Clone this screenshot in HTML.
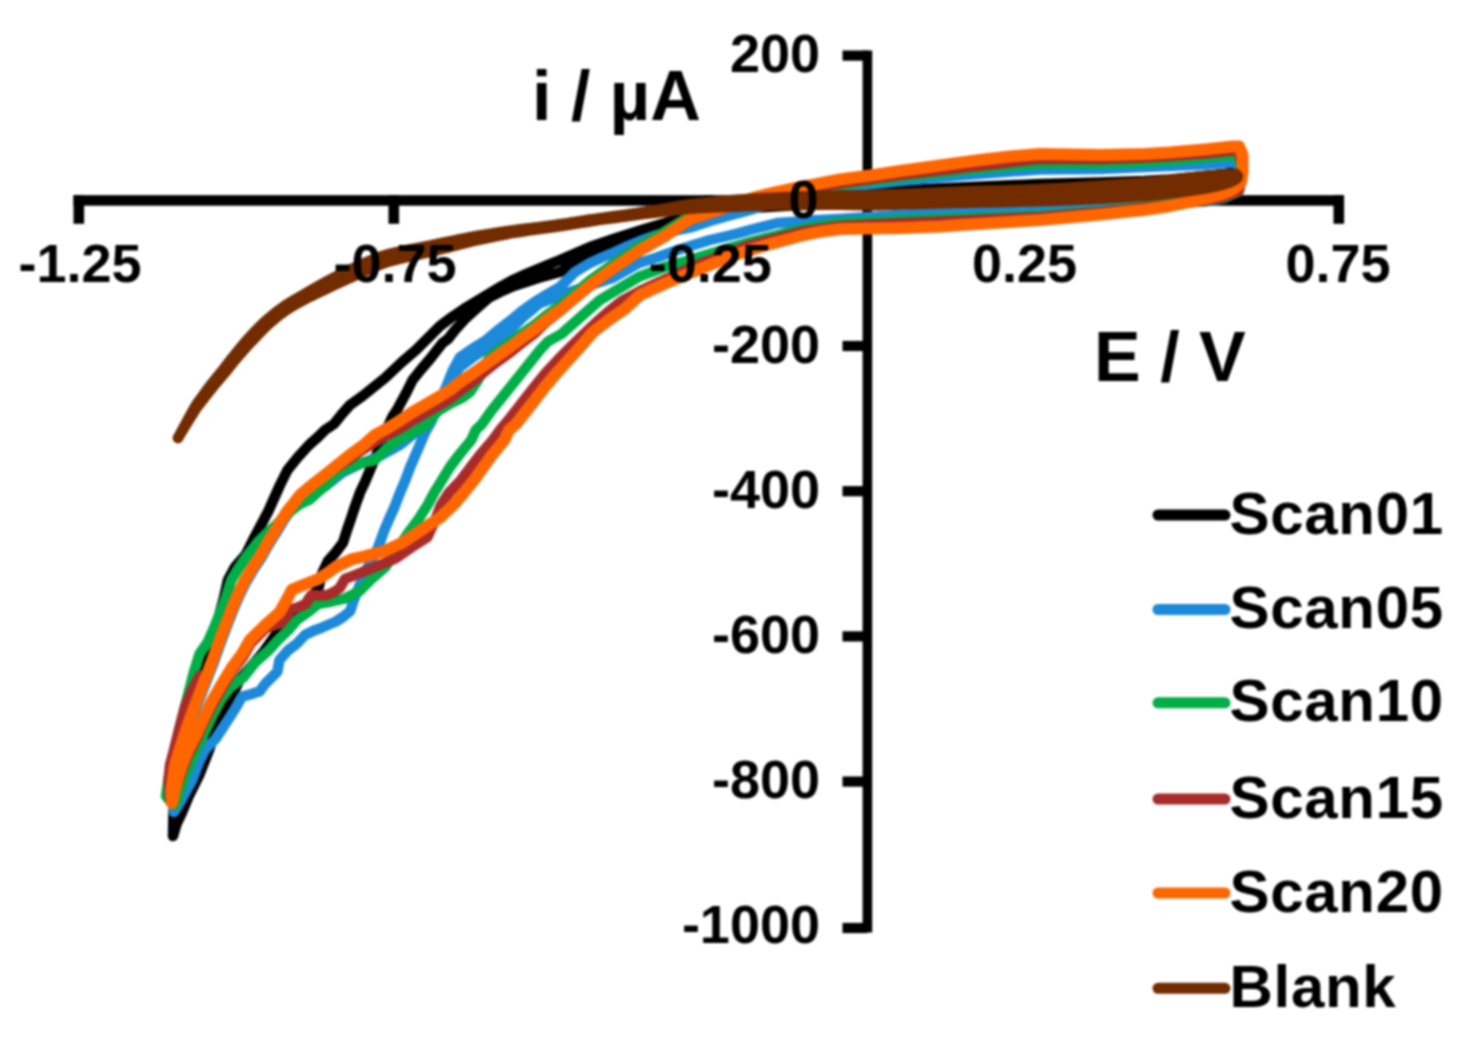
<!DOCTYPE html>
<html lang="en">
<head>
<meta charset="utf-8">
<title>Cyclic voltammograms</title>
<style>
html,body{margin:0;padding:0;background:#fff;}
body{width:1470px;height:1040px;overflow:hidden;font-family:"Liberation Sans",sans-serif;}
svg{display:block;filter:blur(0.9px);}
</style>
</head>
<body>
<svg width="1470" height="1040" viewBox="0 0 1470 1040">
<rect width="100%" height="100%" fill="#fff"/>
<g id="axes"><rect x="73.5" y="195.2" width="1270.5" height="10.5" fill="#000"/><rect x="73.5" y="195.2" width="10.6" height="28.6" fill="#000"/><rect x="388.5" y="195.2" width="10.6" height="28.6" fill="#000"/><rect x="703.5" y="195.2" width="10.6" height="28.6" fill="#000"/><rect x="1018.5" y="195.2" width="10.6" height="28.6" fill="#000"/><rect x="1333.5" y="195.2" width="10.6" height="28.6" fill="#000"/><rect x="862.6" y="50.5" width="9.6" height="882" fill="#000"/><rect x="842.5" y="50.5" width="25" height="10.2" fill="#000"/><rect x="842.5" y="340.9" width="25" height="10.2" fill="#000"/><rect x="842.5" y="486.1" width="25" height="10.2" fill="#000"/><rect x="842.5" y="631.3" width="25" height="10.2" fill="#000"/><rect x="842.5" y="776.5" width="25" height="10.2" fill="#000"/><rect x="842.5" y="922.9" width="25" height="10.2" fill="#000"/></g>
<g id="series"><path d="M173.0 836.0 L173.5 812.0 L177.0 778.0 L182.0 748.0 L189.0 718.0 L197.0 690.0 L205.0 665.0 L212.5 640.0 L219.0 616.0 L224.0 598.0 L228.0 580.0 L235.0 567.0 L245.5 555.0 L253.0 540.0 L261.0 525.0 L268.4 511.0 L273.3 500.0 L280.0 485.0 L287.5 470.0 L298.0 457.0 L309.0 445.0 L318.0 437.0 L325.0 430.0 L334.0 424.0 L342.0 414.0 L350.0 405.0 L362.6 396.0 L375.0 386.0 L385.0 378.0 L402.0 362.0 L416.0 350.0 L430.0 336.0 L440.0 326.0 L452.0 317.0 L464.5 308.5 L477.0 301.0 L489.0 293.6 L501.0 286.5 L513.6 279.7 L526.0 274.0 L538.0 269.0 L550.0 264.0 L560.0 260.0 L575.0 253.5 L590.0 247.0 L615.0 238.5 L640.0 230.5 L665.0 223.0 L690.0 215.0 L720.0 208.0 L750.0 203.5 L800.0 198.0 L840.0 194.0 L900.0 190.5 L960.0 187.5 L1040.0 184.0 L1100.0 182.5 L1145.0 181.0 L1170.0 179.5 L1205.0 176.0 L1224.0 174.0 L1238.0 172.0 L1241.0 177.0 L1238.0 181.0 L1224.0 186.0 L1205.0 189.0 L1170.0 193.0 L1145.0 195.5 L1100.0 198.0 L1040.0 202.3 L960.0 202.5 L900.0 203.0 L840.0 204.0 L800.0 205.0 L750.0 208.0 L720.0 213.0 L690.0 221.0 L665.0 228.0 L640.0 236.0 L615.0 245.0 L590.0 253.0 L575.0 263.0 L560.0 272.0 L538.0 278.0 L526.0 282.0 L513.6 286.0 L501.0 291.5 L489.0 297.5 L477.0 308.0 L464.5 319.4 L455.0 330.0 L448.0 339.0 L442.5 343.0 L430.0 359.0 L421.0 369.5 L412.6 380.0 L406.4 392.5 L397.6 408.8 L392.6 416.3 L385.0 433.0 L378.0 451.0 L371.0 467.6 L365.0 482.0 L360.0 492.6 L355.5 505.0 L351.3 517.6 L347.0 530.0 L343.0 542.6 L336.0 552.0 L328.0 561.0 L322.0 573.7 L318.4 588.0 L305.0 606.0 L289.0 623.8 L276.4 633.8 L263.9 651.3 L251.4 666.4 L240.0 678.9 L227.6 705.0 L221.0 718.0 L215.0 732.0 L209.0 750.0 L199.5 774.4 L189.0 795.6 L181.8 813.0 L176.5 824.0 L173.0 836.0" fill="none" stroke="#000000" stroke-width="10.5" stroke-linejoin="round" stroke-linecap="round"/><path d="M174.0 812.0 L173.0 791.5 L176.5 766.5 L181.0 751.5 L187.5 731.5 L194.7 711.5 L200.5 696.5 L207.5 678.5 L214.5 660.5 L220.3 644.1 L226.5 627.5 L233.5 609.5 L240.0 594.5 L246.5 581.5 L253.5 569.5 L262.2 556.5 L269.5 543.5 L276.5 532.5 L282.5 522.5 L289.1 512.4 L295.5 504.5 L312.0 493.0 L327.0 485.0 L343.4 472.0 L360.0 464.0 L380.0 456.0 L400.0 445.0 L416.0 432.0 L430.0 416.0 L441.0 399.0 L447.0 385.0 L453.0 370.0 L460.0 357.3 L472.0 349.0 L485.0 341.0 L497.0 331.0 L510.0 321.0 L522.0 311.0 L534.0 302.5 L546.0 295.0 L560.0 287.0 L575.0 272.0 L590.0 263.0 L603.0 257.0 L615.0 252.0 L628.0 246.0 L640.0 241.0 L657.0 235.0 L675.0 230.5 L692.0 227.0 L710.0 221.0 L727.6 216.0 L750.0 210.0 L775.0 202.0 L800.0 195.0 L840.0 187.5 L900.0 181.0 L960.0 175.5 L1040.0 169.4 L1100.0 169.0 L1145.0 167.0 L1170.0 166.0 L1205.0 164.5 L1224.0 163.0 L1237.0 161.5 L1241.0 174.0 L1238.0 192.0 L1224.0 198.0 L1205.0 201.5 L1170.0 201.5 L1145.0 203.0 L1100.0 205.0 L1040.0 207.0 L960.0 211.0 L900.0 215.0 L840.0 219.0 L815.0 220.3 L800.0 221.5 L777.6 223.0 L750.0 230.0 L740.0 232.9 L727.6 236.0 L710.0 240.0 L692.0 245.5 L675.0 251.0 L657.0 257.5 L639.0 263.0 L625.0 271.0 L612.6 278.0 L600.0 282.0 L585.0 287.0 L570.0 292.0 L555.0 297.5 L540.0 303.0 L522.0 318.0 L510.0 330.0 L497.0 340.0 L485.0 349.0 L472.0 358.0 L460.0 367.0 L450.0 380.0 L441.0 399.0 L431.4 421.3 L425.0 432.6 L418.0 449.0 L410.0 467.6 L405.0 481.0 L400.0 492.6 L394.5 507.0 L390.0 517.0 L384.4 530.0 L377.5 549.0 L370.0 563.0 L364.4 573.7 L359.0 587.0 L353.8 600.0 L350.3 611.0 L343.0 617.0 L336.0 621.5 L323.7 626.8 L313.0 631.0 L305.0 635.0 L296.5 644.0 L288.4 650.0 L279.5 660.0 L277.3 671.8 L265.0 684.0 L259.7 691.3 L250.0 694.5 L242.0 696.6 L235.0 709.0 L226.0 723.0 L215.4 739.0 L205.0 750.0 L199.0 762.0 L192.4 779.7 L181.8 799.0 L174.0 812.0" fill="none" stroke="#1C89DA" stroke-width="10.5" stroke-linejoin="round" stroke-linecap="round"/><path d="M166.0 796.0 L168.5 779.0 L174.0 752.0 L181.0 722.0 L188.0 695.0 L194.0 671.8 L199.5 654.0 L207.5 642.6 L214.0 628.0 L220.0 613.0 L226.0 597.0 L231.3 580.0 L238.0 569.0 L246.0 557.0 L252.0 549.5 L258.1 541.7 L267.0 533.0 L275.7 525.4 L284.0 517.0 L292.0 510.0 L300.0 504.0 L309.0 500.0 L318.0 492.0 L327.0 484.5 L337.6 472.6 L350.0 467.0 L362.6 462.6 L375.0 460.0 L387.6 447.6 L400.0 438.8 L412.6 432.6 L425.0 426.3 L437.6 411.3 L450.0 403.8 L462.6 397.5 L470.0 392.0 L478.0 380.0 L484.0 368.0 L489.7 357.0 L498.0 351.0 L510.0 342.5 L522.0 333.5 L535.0 324.5 L546.0 315.5 L560.0 305.5 L575.0 293.0 L590.0 280.5 L615.0 262.5 L640.0 245.5 L665.0 231.5 L690.0 216.0 L710.0 208.5 L727.0 205.0 L750.0 199.0 L775.0 195.0 L800.0 191.0 L840.0 185.0 L900.0 177.5 L960.0 170.5 L1040.0 163.5 L1100.0 163.5 L1145.0 162.0 L1170.0 160.5 L1205.0 157.5 L1224.0 156.0 L1238.0 155.0 L1242.0 174.0 L1238.5 191.5 L1224.0 197.5 L1205.0 201.0 L1170.0 204.0 L1145.0 206.5 L1100.0 211.0 L1040.0 215.5 L960.0 218.0 L900.0 220.0 L840.0 222.8 L815.0 226.5 L800.0 229.5 L777.6 235.0 L750.0 242.0 L740.0 245.0 L727.6 248.5 L702.7 256.0 L690.0 260.0 L665.0 267.0 L640.0 276.3 L615.0 291.0 L600.0 300.0 L590.8 308.0 L575.0 322.0 L561.4 334.0 L548.0 341.5 L540.0 350.0 L532.0 360.0 L522.0 372.5 L512.0 385.0 L502.0 397.5 L491.9 410.0 L482.0 424.0 L475.8 430.0 L471.3 440.0 L459.0 455.0 L450.0 467.0 L442.0 480.0 L434.0 493.0 L427.6 505.0 L418.0 520.0 L407.6 534.0 L396.0 551.0 L385.6 566.7 L371.5 579.0 L359.0 591.4 L345.0 598.5 L332.0 601.5 L318.4 603.8 L309.6 611.0 L297.2 619.7 L288.4 630.0 L277.5 640.5 L269.0 650.0 L255.0 662.5 L243.7 677.0 L229.6 687.8 L220.7 700.0 L212.0 716.0 L203.0 735.5 L196.0 750.0 L185.4 774.4 L180.0 790.3 L175.0 805.0 L170.0 801.0 L166.0 796.0" fill="none" stroke="#00AF47" stroke-width="10.5" stroke-linejoin="round" stroke-linecap="round"/><path d="M170.0 800.0 L168.5 780.0 L170.0 765.0 L174.0 750.0 L179.0 730.0 L185.3 706.0 L192.0 690.0 L199.5 676.0 L206.5 677.0 L213.5 659.0 L219.3 642.6 L225.5 626.0 L232.5 608.0 L239.0 593.0 L245.5 580.0 L252.5 568.0 L261.2 555.0 L268.5 542.0 L275.5 531.0 L281.5 521.0 L288.1 510.9 L294.5 503.0 L300.5 495.0 L312.5 485.0 L325.5 475.0 L323.0 476.0 L335.5 468.0 L348.0 460.0 L360.6 451.0 L375.0 442.0 L388.0 435.0 L400.0 428.5 L412.0 421.0 L425.0 413.5 L437.0 406.5 L450.0 399.0 L460.0 391.0 L475.0 380.0 L485.0 371.5 L497.0 362.0 L510.0 352.6 L522.0 343.0 L535.0 333.0 L546.0 322.0 L560.0 311.0 L575.0 298.5 L590.0 286.0 L615.0 268.0 L640.0 251.0 L665.0 236.7 L690.0 220.0 L707.0 214.5 L724.0 209.0 L740.0 203.0 L758.0 197.5 L777.6 193.0 L796.0 189.5 L815.0 186.5 L840.0 183.5 L874.0 178.5 L900.0 175.0 L960.0 168.0 L1000.0 163.5 L1040.0 158.8 L1100.0 159.0 L1145.0 157.5 L1170.0 156.0 L1205.0 153.5 L1224.0 151.5 L1239.0 150.0 L1243.0 172.0 L1239.0 191.0 L1224.0 197.0 L1205.0 200.5 L1170.0 205.0 L1145.0 207.5 L1100.0 212.0 L1040.0 217.0 L960.0 220.5 L900.0 223.0 L840.0 226.0 L815.0 229.5 L800.0 232.0 L777.6 238.0 L750.0 245.0 L727.6 253.0 L692.0 267.0 L675.0 275.0 L657.0 283.0 L640.0 291.0 L621.5 301.0 L610.3 310.0 L596.0 322.5 L582.8 335.0 L570.0 347.5 L557.7 360.0 L546.0 372.5 L535.8 385.0 L526.0 397.5 L516.4 410.0 L506.0 423.0 L500.0 430.0 L492.0 441.0 L480.0 455.0 L470.0 468.0 L461.0 480.0 L449.0 492.6 L441.0 505.0 L436.0 518.0 L427.6 537.0 L415.0 545.0 L396.3 558.0 L385.0 563.0 L371.5 568.4 L353.8 575.5 L345.0 579.0 L339.7 588.0 L334.0 592.0 L327.3 595.0 L319.0 595.5 L311.4 595.0 L308.0 600.0 L306.0 603.8 L299.0 607.0 L292.0 609.0 L286.6 616.0 L281.0 623.0 L266.0 628.0 L251.0 643.0 L243.0 657.0 L232.0 671.0 L221.5 689.0 L212.0 706.0 L204.0 722.0 L197.0 738.0 L189.0 753.0 L183.0 768.0 L178.0 783.0 L172.0 800.0 L170.0 800.0" fill="none" stroke="#A82B2A" stroke-width="10.5" stroke-linejoin="round" stroke-linecap="round"/><path d="M172.0 803.0 L171.5 790.0 L175.0 765.0 L179.5 750.0 L186.0 730.0 L193.2 710.0 L199.0 695.0 L206.0 677.0 L213.0 659.0 L218.8 642.6 L225.0 626.0 L232.0 608.0 L238.5 593.0 L245.0 580.0 L252.0 568.0 L260.7 555.0 L268.0 542.0 L275.0 531.0 L281.0 521.0 L287.6 510.9 L294.0 503.0 L300.0 495.0 L312.0 485.0 L325.0 475.0 L337.5 465.0 L350.0 455.0 L362.6 446.0 L375.0 435.0 L388.0 428.0 L400.0 420.5 L412.0 412.5 L425.0 405.0 L437.0 398.0 L450.0 390.0 L460.0 382.0 L475.0 372.0 L486.0 364.0 L498.0 355.5 L510.0 347.0 L522.0 338.0 L535.0 329.0 L546.0 320.0 L560.0 310.0 L575.0 297.5 L590.0 285.0 L615.0 267.0 L640.0 250.0 L665.0 235.7 L690.0 219.0 L707.0 213.5 L724.0 208.0 L740.0 202.0 L758.0 196.5 L777.6 191.8 L796.0 188.0 L815.0 184.3 L840.0 179.5 L874.0 175.0 L900.0 171.0 L940.0 165.5 L980.0 160.0 L1010.0 156.5 L1040.0 154.0 L1100.0 155.0 L1145.0 154.0 L1170.0 152.5 L1205.0 149.5 L1224.0 147.5 L1233.0 146.5 L1239.0 146.5 L1242.5 155.0 L1242.5 172.0 L1241.0 182.0 L1234.0 189.0 L1224.0 193.5 L1205.0 198.6 L1170.0 206.0 L1145.0 209.8 L1100.0 214.5 L1040.0 220.0 L1000.0 222.5 L960.0 225.0 L940.0 226.5 L900.0 228.0 L868.0 228.5 L840.0 229.0 L825.0 231.0 L815.0 232.6 L800.0 236.0 L777.6 242.0 L758.0 247.5 L740.0 253.2 L724.0 259.0 L707.0 266.0 L690.0 273.0 L665.0 283.5 L640.0 295.0 L624.6 309.0 L610.0 319.0 L593.0 332.0 L580.0 347.0 L568.3 360.0 L557.0 372.5 L546.4 385.0 L537.0 397.0 L527.0 410.0 L516.0 424.0 L509.0 430.0 L504.4 440.0 L492.0 455.0 L483.0 467.5 L474.0 480.0 L464.0 492.5 L453.3 505.0 L440.0 517.6 L421.4 530.0 L402.6 542.6 L383.8 551.4 L365.0 556.4 L352.5 559.0 L336.0 566.7 L329.0 572.0 L318.4 579.0 L300.7 586.0 L292.0 589.7 L286.6 600.0 L279.5 612.6 L265.4 625.0 L250.0 640.0 L242.0 654.0 L231.4 668.3 L220.7 686.0 L211.0 703.0 L203.0 719.6 L196.0 735.0 L188.0 750.0 L182.0 765.0 L177.0 781.0 L172.0 803.0" fill="none" stroke="#FF6600" stroke-width="12" stroke-linejoin="round" stroke-linecap="round"/><path d="M840.0 195.2 L868.0 195.0 L900.0 194.0 L960.0 191.5 L1040.0 189.0 L1100.0 185.5 L1145.0 182.5 L1170.0 180.0 L1205.0 176.0 L1224.0 174.5 L1236.0 174.0 L1236.0 174.0 L1238.0 176.5 L1235.0 180.0 L1224.0 184.5 L1205.0 188.6 L1170.0 193.5 L1145.0 196.0 L1100.0 198.7 L1040.0 201.2 L960.0 203.0 L900.0 204.5 L868.0 205.2 L840.0 204.8Z" fill="#722C00" stroke="none"/><path d="M178.0 438.0 C179.3 435.6 182.8 428.9 185.6 423.8 C188.4 418.6 192.3 411.2 194.9 407.0 C197.4 402.7 198.1 402.1 201.0 398.2 C203.8 394.3 208.0 388.4 211.8 383.6 C215.6 378.7 220.1 373.4 223.6 368.9 C227.2 364.4 228.9 361.8 233.0 356.8 C237.1 351.7 242.8 344.5 248.3 338.5 C253.9 332.4 259.9 325.9 266.1 320.3 C272.3 314.8 279.1 309.6 285.7 305.1 C292.4 300.6 298.7 297.4 305.8 293.3 C312.9 289.2 320.5 284.7 328.5 280.5 C336.4 276.3 345.1 272.0 353.4 268.1 C361.8 264.2 370.3 260.1 378.8 257.2 C387.2 254.2 395.8 252.5 404.2 250.6 C412.6 248.7 420.9 247.3 429.3 245.6 C437.7 243.9 446.0 242.1 454.4 240.4 C462.8 238.8 469.7 237.3 479.6 235.5 C489.5 233.8 503.7 231.5 513.8 230.1 C523.8 228.7 531.4 228.1 539.9 227.0 C548.4 225.9 556.5 224.8 564.9 223.5 C573.2 222.3 581.5 220.8 589.9 219.5 C598.2 218.3 606.5 217.2 614.9 216.0 C623.2 214.8 631.5 213.8 639.9 212.5 C648.2 211.2 656.5 209.8 664.8 208.4 C673.1 207.0 677.3 205.7 689.8 204.3 C702.3 202.8 723.1 200.8 739.8 199.6 C756.5 198.3 773.2 197.6 789.9 196.9 C806.6 196.2 831.6 195.5 839.9 195.3 C848.3 195.0 835.3 195.2 840.0 195.2 C844.7 195.2 858.0 195.2 868.0 195.0 C878.0 194.8 884.7 194.6 900.0 194.0 C915.3 193.4 936.7 192.3 960.0 191.5 C983.3 190.7 1016.7 190.0 1040.0 189.0 C1063.3 188.0 1082.5 186.6 1100.0 185.5 C1117.5 184.4 1133.3 183.4 1145.0 182.5 C1156.7 181.6 1160.0 181.1 1170.0 180.0 C1180.0 178.9 1196.0 176.9 1205.0 176.0 C1214.0 175.1 1218.8 174.8 1224.0 174.5 C1229.2 174.2 1234.0 174.1 1236.0 174.0" fill="none" stroke="#722C00" stroke-width="10.5" stroke-linejoin="round" stroke-linecap="round"/><path d="M178.0 438.0 C179.4 435.7 183.3 429.2 186.4 424.2 C189.5 419.2 193.8 412.1 196.5 408.0 C199.3 404.0 200.1 403.5 203.0 399.8 C206.0 396.0 210.3 390.2 214.2 385.4 C218.1 380.7 222.7 375.5 226.4 371.1 C230.0 366.7 231.8 364.2 236.0 359.2 C240.2 354.3 246.1 347.5 251.7 341.5 C257.2 335.6 263.0 329.1 269.1 323.7 C275.2 318.2 281.7 313.2 288.3 308.9 C294.8 304.5 301.0 301.4 308.2 297.7 C315.4 294.0 323.5 290.3 331.5 286.5 C339.6 282.7 348.3 278.6 356.6 274.9 C364.8 271.2 373.0 267.2 381.2 264.2 C389.4 261.3 397.6 259.4 405.8 257.4 C414.1 255.4 422.4 253.9 430.7 252.0 C439.0 250.0 447.3 247.6 455.6 245.6 C463.9 243.5 470.6 241.6 480.4 239.5 C490.2 237.4 504.3 234.6 514.2 232.9 C524.2 231.1 531.6 230.2 540.1 229.0 C548.6 227.8 556.8 226.7 565.1 225.5 C573.5 224.2 581.8 222.7 590.1 221.5 C598.5 220.2 606.8 219.2 615.1 218.0 C623.5 216.8 631.8 215.6 640.1 214.5 C648.5 213.4 656.9 212.6 665.2 211.6 C673.6 210.7 677.7 209.6 690.2 208.7 C702.7 207.9 723.5 207.1 740.2 206.4 C756.8 205.8 773.5 205.4 790.1 205.1 C806.8 204.8 831.8 204.8 840.1 204.7 C848.4 204.7 835.3 204.7 840.0 204.8 C844.7 204.9 858.0 205.2 868.0 205.2 C878.0 205.1 884.7 204.9 900.0 204.5 C915.3 204.1 936.7 203.6 960.0 203.0 C983.3 202.4 1016.7 201.9 1040.0 201.2 C1063.3 200.5 1082.5 199.6 1100.0 198.7 C1117.5 197.8 1133.3 196.9 1145.0 196.0 C1156.7 195.1 1160.0 194.7 1170.0 193.5 C1180.0 192.3 1196.0 190.1 1205.0 188.6 C1214.0 187.1 1219.0 185.9 1224.0 184.5 C1229.0 183.1 1232.7 181.3 1235.0 180.0 C1237.3 178.7 1237.8 177.5 1238.0 176.5 C1238.2 175.5 1236.3 174.4 1236.0 174.0" fill="none" stroke="#722C00" stroke-width="10.5" stroke-linejoin="round" stroke-linecap="round"/></g>
<g id="ticklabels"><text x="80.0" y="282" font-size="54" text-anchor="middle" font-family="'Liberation Sans', sans-serif" font-weight="bold" fill="#000">-1.25</text><text x="395" y="282" font-size="54" text-anchor="middle" font-family="'Liberation Sans', sans-serif" font-weight="bold" fill="#000">-0.75</text><text x="710.3" y="282" font-size="54" text-anchor="middle" font-family="'Liberation Sans', sans-serif" font-weight="bold" fill="#000">-0.25</text><text x="1024.6" y="282" font-size="54" text-anchor="middle" font-family="'Liberation Sans', sans-serif" font-weight="bold" fill="#000">0.25</text><text x="1338" y="282" font-size="54" text-anchor="middle" font-family="'Liberation Sans', sans-serif" font-weight="bold" fill="#000">0.75</text><text x="820" y="72.1" font-size="54" text-anchor="end" font-family="'Liberation Sans', sans-serif" font-weight="bold" fill="#000">200</text><text x="818.5" y="218.1" font-size="54" text-anchor="end" font-family="'Liberation Sans', sans-serif" font-weight="bold" fill="#000">0</text><text x="820" y="362.5" font-size="54" text-anchor="end" font-family="'Liberation Sans', sans-serif" font-weight="bold" fill="#000">-200</text><text x="820" y="507.7" font-size="54" text-anchor="end" font-family="'Liberation Sans', sans-serif" font-weight="bold" fill="#000">-400</text><text x="820" y="652.9" font-size="54" text-anchor="end" font-family="'Liberation Sans', sans-serif" font-weight="bold" fill="#000">-600</text><text x="820" y="798.1" font-size="54" text-anchor="end" font-family="'Liberation Sans', sans-serif" font-weight="bold" fill="#000">-800</text><text x="820" y="943.3" font-size="54" text-anchor="end" font-family="'Liberation Sans', sans-serif" font-weight="bold" fill="#000">-1000</text></g>
<g id="titles"><text x="532" y="120" font-size="70" font-family="'Liberation Sans', sans-serif" font-weight="bold" fill="#000">i / µA</text><text x="1094" y="381" font-size="70" font-family="'Liberation Sans', sans-serif" font-weight="bold" fill="#000">E / V</text></g>
<g id="legend"><line x1="1158" y1="515.1" x2="1225" y2="515.1" stroke="#000000" stroke-width="11" stroke-linecap="round"/><text x="1229.5" y="533.6" font-size="60" letter-spacing="0.7" font-family="'Liberation Sans', sans-serif" font-weight="bold" fill="#000">Scan01</text><line x1="1158" y1="609.5" x2="1225" y2="609.5" stroke="#1C89DA" stroke-width="11" stroke-linecap="round"/><text x="1229.5" y="628.0" font-size="60" letter-spacing="0.7" font-family="'Liberation Sans', sans-serif" font-weight="bold" fill="#000">Scan05</text><line x1="1158" y1="702.8" x2="1225" y2="702.8" stroke="#00AF47" stroke-width="11" stroke-linecap="round"/><text x="1229.5" y="721.3" font-size="60" letter-spacing="0.7" font-family="'Liberation Sans', sans-serif" font-weight="bold" fill="#000">Scan10</text><line x1="1158" y1="799.1" x2="1225" y2="799.1" stroke="#A82B2A" stroke-width="11" stroke-linecap="round"/><text x="1229.5" y="817.6" font-size="60" letter-spacing="0.7" font-family="'Liberation Sans', sans-serif" font-weight="bold" fill="#000">Scan15</text><line x1="1158" y1="893.0" x2="1225" y2="893.0" stroke="#FF6600" stroke-width="11" stroke-linecap="round"/><text x="1229.5" y="911.5" font-size="60" letter-spacing="0.7" font-family="'Liberation Sans', sans-serif" font-weight="bold" fill="#000">Scan20</text><line x1="1158" y1="988.3" x2="1225" y2="988.3" stroke="#722C00" stroke-width="11" stroke-linecap="round"/><text x="1229.5" y="1006.8" font-size="60" letter-spacing="0.7" font-family="'Liberation Sans', sans-serif" font-weight="bold" fill="#000">Blank</text></g>
</svg>
</body>
</html>
